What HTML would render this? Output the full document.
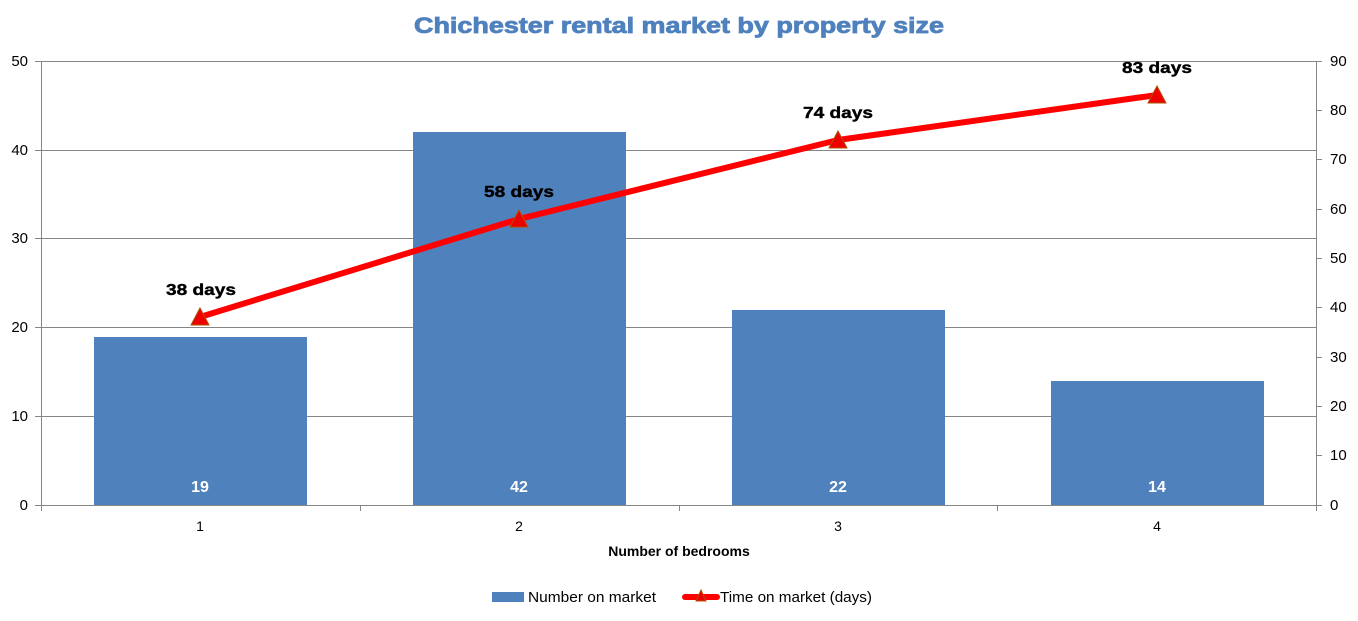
<!DOCTYPE html>
<html><head><meta charset="utf-8"><style>body{margin:0;background:#fff}svg{display:block}</style></head>
<body>
<svg width="1358" height="621" xmlns="http://www.w3.org/2000/svg" font-family="Liberation Sans, sans-serif">
<text x="414" y="33" font-size="22" font-weight="bold" fill="#4f81bd" stroke="#4f81bd" stroke-width="0.8" textLength="530" lengthAdjust="spacingAndGlyphs">Chichester rental market by property size</text>
<g stroke="#868686" stroke-width="1">
<line x1="41" y1="61.5" x2="1316" y2="61.5"/>
<line x1="41" y1="150.5" x2="1316" y2="150.5"/>
<line x1="41" y1="238.5" x2="1316" y2="238.5"/>
<line x1="41" y1="327.5" x2="1316" y2="327.5"/>
<line x1="41" y1="416.5" x2="1316" y2="416.5"/>
<line x1="35" y1="505.5" x2="1322" y2="505.5"/>
<line x1="41.5" y1="61" x2="41.5" y2="505"/>
<line x1="1316.5" y1="61" x2="1316.5" y2="505"/>
<line x1="35" y1="61.5" x2="41" y2="61.5"/><line x1="35" y1="150.5" x2="41" y2="150.5"/><line x1="35" y1="238.5" x2="41" y2="238.5"/><line x1="35" y1="327.5" x2="41" y2="327.5"/><line x1="35" y1="416.5" x2="41" y2="416.5"/>
<line x1="1316" y1="110.5" x2="1322" y2="110.5"/><line x1="1316" y1="159.5" x2="1322" y2="159.5"/><line x1="1316" y1="209.5" x2="1322" y2="209.5"/><line x1="1316" y1="258.5" x2="1322" y2="258.5"/><line x1="1316" y1="307.5" x2="1322" y2="307.5"/><line x1="1316" y1="357.5" x2="1322" y2="357.5"/><line x1="1316" y1="406.5" x2="1322" y2="406.5"/><line x1="1316" y1="455.5" x2="1322" y2="455.5"/><line x1="1316" y1="61.5" x2="1322" y2="61.5"/>
<line x1="360.5" y1="505" x2="360.5" y2="511"/><line x1="679.5" y1="505" x2="679.5" y2="511"/><line x1="997.5" y1="505" x2="997.5" y2="511"/><line x1="41.5" y1="505" x2="41.5" y2="511"/><line x1="1316.5" y1="505" x2="1316.5" y2="511"/>
</g>
<g font-size="15" fill="#000" text-anchor="end">
<text x="28" y="66">50</text><text x="28" y="155">40</text><text x="28" y="243">30</text><text x="28" y="332">20</text><text x="28" y="421">10</text><text x="28" y="510">0</text>
</g>
<g font-size="15" fill="#000">
<text x="1330" y="66">90</text><text x="1330" y="115">80</text><text x="1330" y="164">70</text><text x="1330" y="214">60</text><text x="1330" y="263">50</text><text x="1330" y="312">40</text><text x="1330" y="362">30</text><text x="1330" y="411">20</text><text x="1330" y="460">10</text><text x="1330" y="510">0</text>
</g>
<g fill="#4f81bd">
<rect x="94" y="337" width="213" height="168"/>
<rect x="413" y="132" width="213" height="373"/>
<rect x="732" y="310" width="213" height="195"/>
<rect x="1051" y="381" width="213" height="124"/>
</g>
<g font-size="16" font-weight="bold" fill="#fff" text-anchor="middle">
<text x="200" y="492">19</text><text x="519" y="492">42</text><text x="838" y="492">22</text><text x="1157" y="492">14</text>
</g>
<g font-size="14" fill="#000" text-anchor="middle">
<text x="200" y="531">1</text><text x="519" y="531">2</text><text x="838" y="531">3</text><text x="1157" y="531">4</text>
<text x="679" y="556" font-weight="bold">Number of bedrooms</text>
</g>
<polyline points="200,317 519,219 838,140 1157,95" fill="none" stroke="#f00" stroke-width="6" stroke-linejoin="round"/>
<g fill="#e00" stroke="#b05000" stroke-width="1">
<polygon points="200,308 209,325 191,325"/><polygon points="519,210 528,227 510,227"/><polygon points="838,131 847,148 829,148"/><polygon points="1157,86 1166,103 1148,103"/>
</g>
<g font-size="16" font-weight="bold" fill="#000" stroke="#000" stroke-width="0.4">
<text x="166" y="295" textLength="70" lengthAdjust="spacingAndGlyphs">38 days</text><text x="484" y="197" textLength="70" lengthAdjust="spacingAndGlyphs">58 days</text><text x="803" y="118" textLength="70" lengthAdjust="spacingAndGlyphs">74 days</text><text x="1122" y="73" textLength="70" lengthAdjust="spacingAndGlyphs">83 days</text>
</g>
<rect x="492" y="592" width="32" height="10" fill="#4f81bd"/>
<text x="528" y="602" font-size="15" fill="#000" textLength="128" lengthAdjust="spacingAndGlyphs">Number on market</text>
<line x1="685" y1="597" x2="717" y2="597" stroke="#f00" stroke-width="6" stroke-linecap="round"/>
<polygon points="701,590 706,601 696,601" fill="#e00" stroke="#b05000" stroke-width="1"/>
<text x="720" y="602" font-size="15" fill="#000" textLength="152" lengthAdjust="spacingAndGlyphs">Time on market (days)</text>
</svg>
</body></html>
